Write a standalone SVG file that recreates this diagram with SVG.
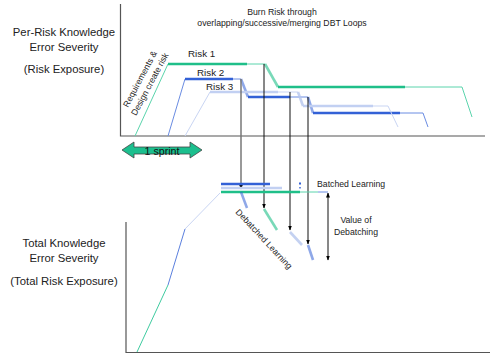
<svg xmlns="http://www.w3.org/2000/svg" width="500" height="360" viewBox="0 0 500 360">
<defs>
<marker id="ah" viewBox="0 0 10 10" refX="9" refY="5" markerWidth="5" markerHeight="5" orient="auto-start-reverse" markerUnits="userSpaceOnUse">
<path d="M0,1 L10,5 L0,9 Z" fill="#000"/>
</marker>
<style>
text{font-family:"Liberation Sans",Arial,sans-serif;fill:#222}
.lab{font-size:11.3px;text-anchor:middle}
.sm{font-size:8.7px}
.rk{font-size:9.8px}
.axis{stroke:#555;stroke-width:1.2;fill:none}
.g1{stroke:#5AD4AC;stroke-width:1;fill:none}
.g3{stroke:#1FBF89;stroke-width:2.6;fill:none}
.gd{stroke:#1FBF89;stroke-width:2.6;fill:none;opacity:.6}
.b1{stroke:#6A8CE2;stroke-width:1;fill:none}
.b3{stroke:#3361D6;stroke-width:2.6;fill:none}
.bd{stroke:#3361D6;stroke-width:2.6;fill:none;opacity:.55}
.l1{stroke:#C9D5F3;stroke-width:1;fill:none}
.l3{stroke:#C2D0F2;stroke-width:2.6;fill:none}
.ld{stroke:#B5C5EE;stroke-width:2.6;fill:none;opacity:.8}
.arr{stroke:#111;stroke-width:1;fill:none}
</style>
</defs>

<g id="labels-left">
<text class="lab" x="64" y="36">Per-Risk Knowledge</text>
<text class="lab" x="64" y="51">Error Severity</text>
<text class="lab" x="64" y="73">(Risk Exposure)</text>
<text class="lab" x="64" y="247">Total Knowledge</text>
<text class="lab" x="64" y="262">Error Severity</text>
<text class="lab" x="64" y="285">(Total Risk Exposure)</text>
</g>

<g id="title">
<text class="sm" x="282" y="15" text-anchor="middle">Burn Risk through</text>
<text class="sm" x="282" y="26" text-anchor="middle">overlapping/successive/merging DBT Loops</text>
</g>

<g id="axes">
<path class="axis" d="M120.5,4 V136 H485"/>
<path class="axis" d="M126,222 V352.5 H490"/>
</g>

<g id="risk1">
<path class="g1" d="M135,136 L168,64"/>
<path class="g3" d="M168,64 H247"/>
<path class="g1" d="M247,64 H265"/>
<path class="gd" d="M265,64 L278,87"/>
<path class="g3" d="M278,87 H405"/>
<path class="g1" d="M405,87 H462 L472,117"/>
<text class="rk" x="188" y="57">Risk 1</text>
</g>

<g id="risk2">
<path class="b1" d="M168,136 L185,79"/>
<path class="b3" d="M185,79 H233"/>
<path class="b1" d="M233,79 H241"/>
<path class="bd" d="M241,79 L248,97"/>
<path class="b3" d="M248,97 H290"/>
<path class="b1" d="M290,97 H308"/>
<path class="bd" d="M308,97 L313,113"/>
<path class="b3" d="M313,113 H400"/>
<path class="b1" d="M400,113 H423 L428,127"/>
<text class="rk" x="197" y="76">Risk 2</text>
</g>

<g id="risk3">
<path class="l1" d="M185,136 L210,92"/>
<path class="l3" d="M210,92 H278"/>
<path class="l1" d="M278,92 H298"/>
<path class="ld" d="M298,92 L303,106"/>
<path class="l3" d="M303,106 H373"/>
<path class="l1" d="M373,106 H388 L398,127"/>
<text class="rk" x="206" y="90">Risk 3</text>
</g>

<g id="req-text" transform="translate(140,79) rotate(-62)">
<text class="sm" x="0" y="3" text-anchor="middle" font-size="8.5">Requirements &amp;</text>
<text class="sm" x="0" y="14" text-anchor="middle" font-size="8.5">Design create risk</text>
</g>

<g id="sprint">
<path d="M122,150 L134,142 V147 H190 V142 L202,150 L190,158 V154 H134 V158 Z" fill="#1CBF8E" stroke="#444" stroke-width="0.8"/>
<text x="162" y="155" text-anchor="middle" font-size="10.7" style="fill:#111">1 sprint</text>
</g>

<g id="connectors">
<path d="M241,79 V189" stroke="#777" stroke-width="1.5" fill="none" marker-end="url(#ah)"/>
<path class="arr" d="M264,64 V208" marker-end="url(#ah)"/>
<path class="arr" d="M290,92 V230" marker-end="url(#ah)"/>
<path class="arr" d="M308,97 V244" marker-end="url(#ah)"/>
<path class="arr" d="M328,193 V260" marker-start="url(#ah)" marker-end="url(#ah)"/>
</g>

<g id="total">
<path d="M137,352 L168,285" stroke="#3FCBA0" stroke-width="1" fill="none"/>
<path d="M168,285 L185,229" stroke="#5B80DE" stroke-width="1" fill="none"/>
<path d="M185,229 L220,193" stroke="#C9D5F3" stroke-width="1" fill="none"/>
<path class="b3" d="M221,184 H270"/>
<path class="l3" d="M221,188 H282"/>
<path class="g3" d="M221,192 H300"/>
<path class="g1" d="M300,192 H318"/>
<path class="b1" d="M318,192 H328"/>
<rect x="299" y="182.5" width="2" height="2" fill="#3361D6"/>
<rect x="299" y="187" width="2" height="1.5" fill="#6A8CE2"/>
<text class="sm" x="317" y="187" font-size="8.5">Batched Learning</text>
</g>

<g id="debatched">
<path class="bd" d="M241,192 L247,208"/>
<path class="gd" d="M264,209 L277,230"/>
<path class="ld" d="M290,232 L302,245"/>
<path class="bd" d="M308,245 L313,260"/>
<g transform="translate(264,239) rotate(47)">
<text class="sm" x="0" y="3" text-anchor="middle">Debatched Learning</text>
</g>
</g>

<g id="value">
<text class="sm" x="356" y="223" text-anchor="middle">Value of</text>
<text class="sm" x="356" y="235" text-anchor="middle">Debatching</text>
</g>
</svg>
